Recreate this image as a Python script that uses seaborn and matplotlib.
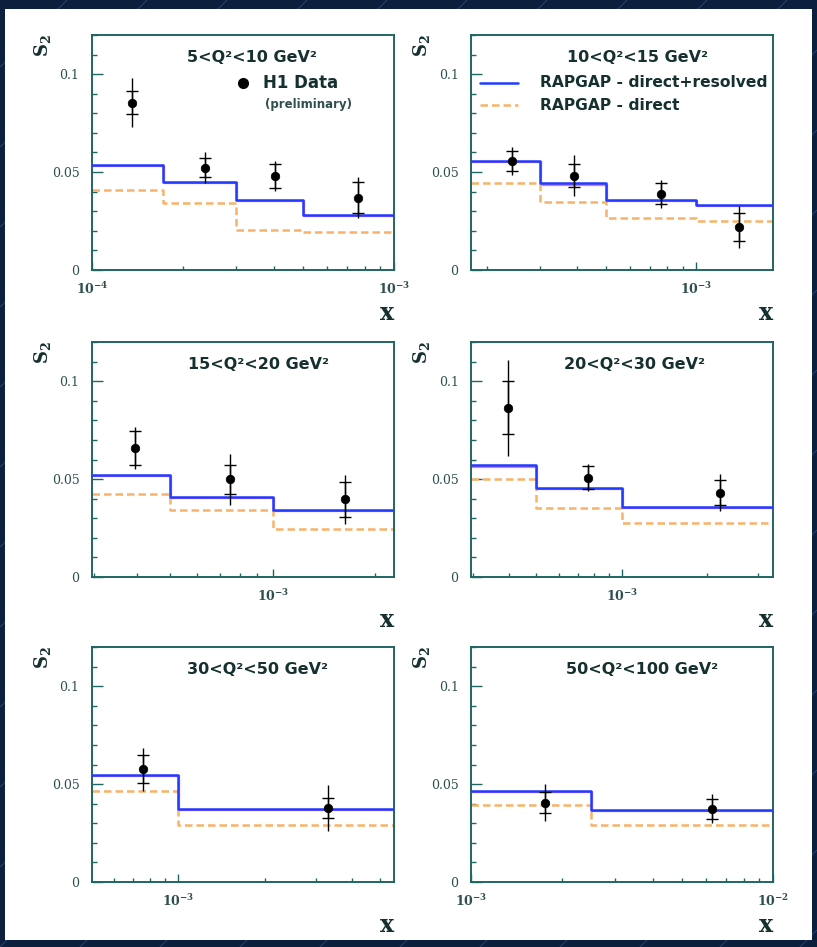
import matplotlib
matplotlib.use("Agg")
import matplotlib.pyplot as plt
import matplotlib.transforms as mtransforms
from matplotlib.lines import Line2D
from matplotlib.patches import Rectangle
from matplotlib.ticker import LogLocator, NullFormatter, MultipleLocator, FixedLocator, FuncFormatter
import seaborn as sns

sns.set_theme(style="ticks")
plt.rcParams["mathtext.fontset"] = "dejavuserif"
plt.rcParams["font.family"] = ["DejaVu Sans"]

# ---- Q^2 bins --------------------------------------------------------------
q2_labels = ["5<Q²<10 GeV²", "10<Q²<15 GeV²", "15<Q²<20 GeV²",
             "20<Q²<30 GeV²", "30<Q²<50 GeV²", "50<Q²<100 GeV²"]

# x range of each panel
x_ranges = [(1e-4, 1e-3), (1.77e-4, 1.8e-3), (2.95e-4, 2.27e-3),
            (2.95e-4, 3.4e-3), (5.05e-4, 5.57e-3), (1e-3, 1e-2)]

# ---- H1 data: bin centres, S2, statistical and total errors ------------------
data_x = [[1.36e-4, 2.36e-4, 4.05e-4, 7.58e-4],
          [2.43e-4, 3.9e-4, 7.6e-4, 1.39e-3],
          [3.95e-4, 7.5e-4, 1.63e-3],
          [3.99e-4, 7.58e-4, 2.21e-3],
          [7.57e-4, 3.29e-3],
          [1.76e-3, 6.28e-3]]
data_s2 = [[0.0855, 0.0523, 0.048, 0.037],
           [0.0557, 0.0481, 0.0389, 0.022],
           [0.066, 0.0498, 0.0396],
           [0.0864, 0.0507, 0.0431],
           [0.0575, 0.0379],
           [0.0405, 0.0374]]
err_stat = [[0.006, 0.005, 0.006, 0.0078],
            [0.005, 0.0058, 0.0053, 0.007],
            [0.0088, 0.0075, 0.009],
            [0.0136, 0.006, 0.0064],
            [0.0072, 0.005],
            [0.0055, 0.005]]
err_total = [[0.0125, 0.008, 0.0078, 0.0105],
             [0.007, 0.0105, 0.0072, 0.0107],
             [0.0107, 0.013, 0.0125],
             [0.0245, 0.0068, 0.0095],
             [0.0108, 0.0118],
             [0.0095, 0.0075]]

# ---- RAPGAP predictions (histograms) ----------------------------------------
mc_edges = [[1e-4, 1.72e-4, 3e-4, 5e-4, 1e-3],
            [1.77e-4, 3e-4, 5e-4, 1e-3, 1.8e-3],
            [2.95e-4, 5e-4, 1e-3, 2.27e-3],
            [2.95e-4, 5e-4, 1e-3, 3.4e-3],
            [5.05e-4, 1e-3, 5.57e-3],
            [1e-3, 2.5e-3, 1e-2]]
rapgap_dir_res = [[0.0537, 0.0451, 0.0358, 0.0281],
                  [0.0556, 0.0443, 0.0358, 0.0333],
                  [0.052, 0.0408, 0.0344],
                  [0.057, 0.0456, 0.0359],
                  [0.0547, 0.0374],
                  [0.0464, 0.0369]]
rapgap_dir = [[0.0407, 0.0341, 0.0204, 0.0196],
              [0.0443, 0.0346, 0.0265, 0.0252],
              [0.0423, 0.034, 0.0243],
              [0.0502, 0.0354, 0.0278],
              [0.0467, 0.0292],
              [0.0391, 0.0292]]

y_major = [0, 0.05, 0.1]
y_max = 0.12

# ---- styling -----------------------------------------------------------------
W, H = 817, 947
NAVY = "#0c1f3c"
FRAME = "#1f6662"
TXT = "#15302f"
BLUE = "#1f3cff"
ORANGE = "#f7b36a"

fig = plt.figure(figsize=(W / 100, H / 100), dpi=100, facecolor=NAVY)

# faint diagonal lines on the dark border
for k in range(-14, 14):
    x0 = k * 80
    fig.add_artist(Line2D([x0 / W, (x0 + H) / W], [0, 1], transform=fig.transFigure,
                          color="#2c4a72", lw=0.6, zorder=-2))
fig.add_artist(Rectangle((5 / W, 1 - 940 / H), 807 / W, 931 / H,
                         transform=fig.transFigure, facecolor="white",
                         edgecolor="none", zorder=-1))

col_left = [92, 471]
row_top = [35, 342, 647]
ax_w, ax_h = 302, 235

title_xpos = [0.53, 0.552, 0.55, 0.54, 0.548, 0.565]


def sci_label(v, pos):
    e = int(round(__import__("math").log10(v)))
    return r"$\mathbf{10^{%d}}$" % e


for i in range(6):
    r, c = divmod(i, 2)
    left = col_left[c] / W
    bottom = 1 - (row_top[r] + ax_h) / H
    ax = fig.add_axes([left, bottom, ax_w / W, ax_h / H])
    ax.set_facecolor("white")

    edges = mc_edges[i]
    y_full = rapgap_dir_res[i] + [rapgap_dir_res[i][-1]]
    y_dir = rapgap_dir[i] + [rapgap_dir[i][-1]]

    # magenta fringe under the full prediction
    shift = mtransforms.offset_copy(ax.transData, fig=fig, x=1.0, y=-1.3, units="dots")
    ax.plot(edges, y_full, drawstyle="steps-post", color="#f06cf0", lw=1.6,
            transform=shift, zorder=2)
    sns.lineplot(x=edges, y=y_full, drawstyle="steps-post", color=BLUE, lw=1.8,
                 estimator=None, sort=False, ax=ax, zorder=3)
    sns.lineplot(x=edges, y=y_dir, drawstyle="steps-post", color=ORANGE, lw=1.8,
                 estimator=None, sort=False, ax=ax, zorder=2, dashes=False)
    ax.lines[-1].set_linestyle((0, (3, 1.6)))

    # data with total (line) and statistical (caps) uncertainties
    ax.errorbar(data_x[i], data_s2[i], yerr=err_total[i], fmt="none",
                ecolor="black", elinewidth=1.0, capsize=0, zorder=4)
    ax.errorbar(data_x[i], data_s2[i], yerr=err_stat[i], fmt="none",
                ecolor="black", elinewidth=1.0, capsize=4.5, capthick=1.0, zorder=4)
    sns.scatterplot(x=data_x[i], y=data_s2[i], color="black", s=38,
                    edgecolor="black", linewidth=0.5, ax=ax, zorder=5)

    ax.set_xscale("log")
    ax.set_xlim(*x_ranges[i])
    ax.set_ylim(0, y_max)
    ax.xaxis.set_major_locator(LogLocator(base=10))
    ax.xaxis.set_minor_locator(LogLocator(base=10, subs=range(2, 10)))
    ax.xaxis.set_major_formatter(FuncFormatter(sci_label))
    ax.xaxis.set_minor_formatter(NullFormatter())
    ax.yaxis.set_major_locator(FixedLocator(y_major))
    ax.yaxis.set_minor_locator(MultipleLocator(0.01))
    ax.yaxis.set_major_formatter(FuncFormatter(lambda v, p: "%g" % v))
    ax.set_xlabel("")
    ax.set_ylabel("")

    for s in ax.spines.values():
        s.set_color(FRAME)
        s.set_linewidth(1.4)
    ax.tick_params(axis="both", which="both", direction="in", color=FRAME,
                   width=1.0, labelcolor="#2e4f4e", top=False, right=False)
    ax.tick_params(axis="x", which="major", length=6, pad=8, labelsize=9)
    ax.tick_params(axis="x", which="minor", length=3)
    ax.tick_params(axis="y", which="major", length=8, pad=9, labelsize=9)
    ax.tick_params(axis="y", which="minor", length=3.5)
    for lab in ax.get_yticklabels() + ax.get_xticklabels():
        lab.set_family("DejaVu Serif")

    ax.text(title_xpos[i], 0.905, q2_labels[i], transform=ax.transAxes,
            ha="center", va="center", fontsize=11.5, fontweight="bold", color=TXT)
    ax.text(-0.163, 0.955, r"$\mathbf{S_2}$", transform=ax.transAxes, rotation=90,
            ha="center", va="center", fontsize=13, color=TXT)
    ax.text(0.978, -0.185, "x", transform=ax.transAxes, ha="center", va="center",
            fontsize=17, fontweight="bold", family="DejaVu Serif", color=TXT)

    if i == 0:
        ax.plot([0.499], [0.795], "o", color="black", ms=7, transform=ax.transAxes)
        ax.text(0.566, 0.795, "H1 Data", transform=ax.transAxes, ha="left",
                va="center", fontsize=12, fontweight="bold", color=TXT)
        ax.text(0.573, 0.705, "(preliminary)", transform=ax.transAxes, ha="left",
                va="center", fontsize=8.5, fontweight="bold", color="#2e4f4e")
    if i == 1:
        ax.plot([0.03, 0.156], [0.797, 0.797], color=BLUE, lw=1.8, transform=ax.transAxes)
        ax.plot([0.03, 0.156], [0.70, 0.70], color=ORANGE, lw=1.8,
                ls=(0, (3, 1.6)), transform=ax.transAxes)
        ax.text(0.228, 0.797, "RAPGAP - direct+resolved", transform=ax.transAxes,
                ha="left", va="center", fontsize=11.2, fontweight="bold", color=TXT)
        ax.text(0.228, 0.70, "RAPGAP - direct", transform=ax.transAxes,
                ha="left", va="center", fontsize=11.2, fontweight="bold", color=TXT)

fig.savefig("out.png", dpi=100, facecolor=NAVY)
